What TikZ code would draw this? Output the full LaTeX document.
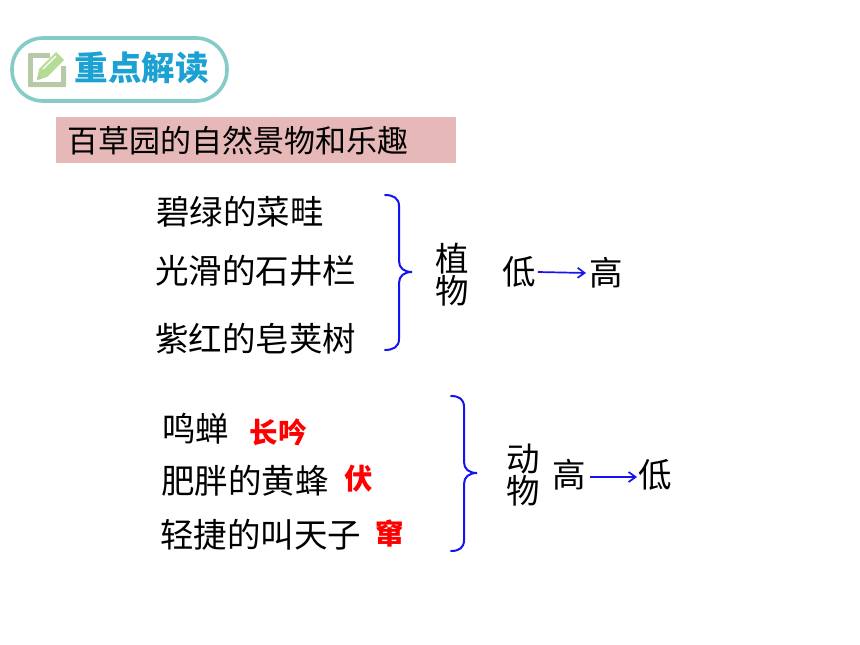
\documentclass[tikz,border=0pt]{standalone}
\usepackage{fontspec}
\setmainfont{Noto Sans CJK SC}
\usetikzlibrary{arrows.meta}
\definecolor{tealring}{HTML}{85CBC6}
\definecolor{headblue}{HTML}{1BA1D2}
\definecolor{bandpink}{HTML}{E6B8B7}
\definecolor{iconbox}{HTML}{B7C9A6}
\definecolor{iconleaf}{HTML}{B5DC95}
\definecolor{bluelink}{HTML}{1414EE}
\tikzset{
  x=1pt,y=-1pt,
  body/.style={inner sep=0pt,font=\fontsize{33.5}{33}\selectfont,text=black},
  titletext/.style={inner sep=0pt,font=\fontsize{31}{31}\selectfont,text=black},
  note/.style={inner sep=0pt,font=\fontsize{28.5}{28}\selectfont\bfseries,text=red},
  stack/.style={inner sep=0pt,font=\fontsize{33.5}{33}\selectfont,text=black,align=center},
  bracepath/.style={draw=bluelink,line width=2pt,line cap=round},
  linkarrow/.style={draw=bluelink,line width=1.7pt,-{Straight Barb[length=7pt,width=10pt]}},
}
\begin{document}
\begin{tikzpicture}
\useasboundingbox (0,0) rectangle (860,645);
\fill[white] (0,0) rectangle (860,645);
% badge
\draw[tealring,line width=3.6pt,fill=white,rounded corners=31pt] (12,38) rectangle (227,101);
\fill[iconbox,rounded corners=1pt] (28,53) rectangle (66,87);
\fill[white] (33,58) rectangle (61,82);
\fill[white] (50,50) rectangle (68,66);
\fill[iconleaf] (39,69) -- (56,52) -- (64,60) -- (47,77) -- (37,80) -- cycle;
\draw[white,line width=1.4pt] (43,69) -- (56,56);
\fill[iconbox] (37,80) -- (38.5,74.5) -- (42,78.5) -- cycle;
\node[inner sep=0pt,font=\fontsize{33.5}{33}\selectfont\bfseries,text=headblue] (badge) at (141.5,68) {重点解读};
% title band
\fill[bandpink] (56,117) rectangle (456,163);
\node[titletext,anchor=west] (title) at (67,141) {百草园的自然景物和乐趣};
% plants
\node[body,anchor=west] (p1) at (156,212) {碧绿的菜畦};
\node[body,anchor=west] (p2) at (155,271) {光滑的石井栏};
\node[body,anchor=west] (p3) at (155,339) {紫红的皂荚树};
\draw[bracepath] (385,195) .. controls (393,195) and (399,198) .. (399,206) -- (399,261) .. controls (399,268) and (404,272) .. (412,272) .. controls (404,272) and (399,276) .. (399,283) -- (399,339) .. controls (399,347) and (393,350) .. (385,350);
\node[stack] (plant) at (452,275) {植\\[-1pt]物};
\node[body] (plow) at (519,272) {低};
\node[body] (phigh) at (606,273) {高};
\draw[linkarrow] (plow.east) ++(2,0) coordinate (pa) (phigh.west) ++(-3,0) coordinate (pb) (pa) -- (pb);
% animals
\node[body,anchor=west] (a1) at (162,429) {鸣蝉};
\node[note,anchor=west] (n1) at (249.5,432) {长吟};
\node[body,anchor=west] (a2) at (161,481) {肥胖的黄蜂};
\node[note,anchor=west] (n2) at (344.5,479) {伏};
\node[body,anchor=west] (a3) at (160,535) {轻捷的叫天子};
\node[note,anchor=west] (n3) at (375.5,534) {窜};
\draw[bracepath] (451,396) .. controls (459,396) and (464,399) .. (464,407) -- (464,462) .. controls (464,469) and (469,473) .. (477,473) .. controls (469,473) and (464,477) .. (464,484) -- (464,540) .. controls (464,548) and (459,551) .. (451,551);
\node[stack] (animal) at (523,475) {动\\[-1pt]物};
\node[body] (ahigh) at (569,475) {高};
\node[body] (alow) at (655,475) {低};
\draw[linkarrow] (ahigh.east) ++(4,2) coordinate (aa) (alow.west) ++(-1,2) coordinate (ab) (aa) -- (ab);
\end{tikzpicture}
\end{document}
